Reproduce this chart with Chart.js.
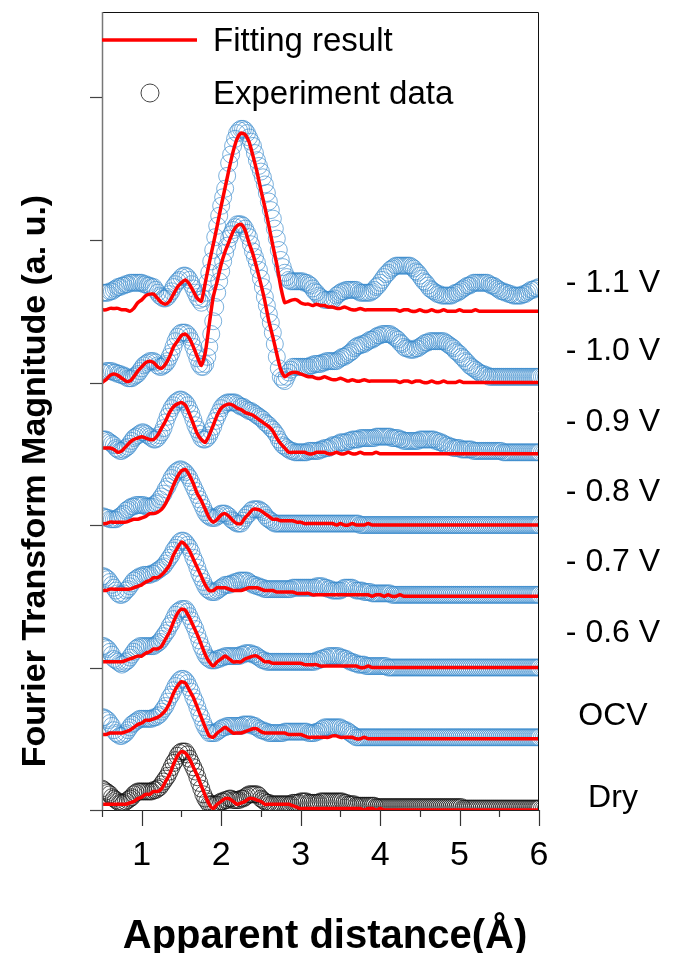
<!DOCTYPE html>
<html>
<head>
<meta charset="utf-8">
<script src="https://cdn.jsdelivr.net/npm/chart.js@4.4.1/dist/chart.umd.min.js"></script>
<style>
  html, body { margin: 0; padding: 0; background: #fff; }
  canvas { display: block; }
</style>
</head>
<body>
<canvas id="ftChart" width="693" height="953"></canvas>
<script>
// apparent distance (Å) for the fitted curves
var rValues = [
  0.5, 0.55, 0.6, 0.65, 0.7, 0.75, 0.8, 0.85, 0.9, 0.95,
  1, 1.05, 1.1, 1.15, 1.2, 1.25, 1.3, 1.35, 1.4, 1.45,
  1.5, 1.55, 1.6, 1.65, 1.7, 1.75, 1.8, 1.85, 1.9, 1.95,
  2, 2.05, 2.1, 2.15, 2.2, 2.25, 2.3, 2.35, 2.4, 2.45,
  2.5, 2.55, 2.6, 2.65, 2.7, 2.75, 2.8, 2.85, 2.9, 2.95,
  3, 3.05, 3.1, 3.15, 3.2, 3.25, 3.3, 3.35, 3.4, 3.45,
  3.5, 3.55, 3.6, 3.65, 3.7, 3.75, 3.8, 3.85, 3.9, 3.95,
  4, 4.05, 4.1, 4.15, 4.2, 4.25, 4.3, 4.35, 4.4, 4.45,
  4.5, 4.55, 4.6, 4.65, 4.7, 4.75, 4.8, 4.85, 4.9, 4.95,
  5, 5.05, 5.1, 5.15, 5.2, 5.25, 5.3, 5.35, 5.4, 5.45,
  5.5, 5.55, 5.6, 5.65, 5.7, 5.75, 5.8, 5.85, 5.9, 5.95,
  6
];
// apparent distance (Å) for the measured points (denser)
var rExp = [
  0.5, 0.525, 0.55, 0.575, 0.6, 0.625, 0.65, 0.675, 0.7, 0.725, 0.75, 0.775, 0.8, 0.825, 0.85, 0.875, 0.9, 0.925, 0.95, 0.975,
  1, 1.025, 1.05, 1.075, 1.1, 1.125, 1.15, 1.175, 1.2, 1.225, 1.25, 1.275, 1.3, 1.325, 1.35, 1.375, 1.4, 1.425, 1.45, 1.475,
  1.5, 1.525, 1.55, 1.575, 1.6, 1.625, 1.65, 1.675, 1.7, 1.725, 1.75, 1.775, 1.8, 1.825, 1.85, 1.875, 1.9, 1.925, 1.95, 1.975,
  2, 2.025, 2.05, 2.075, 2.1, 2.125, 2.15, 2.175, 2.2, 2.225, 2.25, 2.275, 2.3, 2.325, 2.35, 2.375, 2.4, 2.425, 2.45, 2.475,
  2.5, 2.525, 2.55, 2.575, 2.6, 2.625, 2.65, 2.675, 2.7, 2.725, 2.75, 2.775, 2.8, 2.825, 2.85, 2.875, 2.9, 2.925, 2.95, 2.975,
  3, 3.025, 3.05, 3.075, 3.1, 3.125, 3.15, 3.175, 3.2, 3.225, 3.25, 3.275, 3.3, 3.325, 3.35, 3.375, 3.4, 3.425, 3.45, 3.475,
  3.5, 3.525, 3.55, 3.575, 3.6, 3.625, 3.65, 3.675, 3.7, 3.725, 3.75, 3.775, 3.8, 3.825, 3.85, 3.875, 3.9, 3.925, 3.95, 3.975,
  4, 4.025, 4.05, 4.075, 4.1, 4.125, 4.15, 4.175, 4.2, 4.225, 4.25, 4.275, 4.3, 4.325, 4.35, 4.375, 4.4, 4.425, 4.45, 4.475,
  4.5, 4.525, 4.55, 4.575, 4.6, 4.625, 4.65, 4.675, 4.7, 4.725, 4.75, 4.775, 4.8, 4.825, 4.85, 4.875, 4.9, 4.925, 4.95, 4.975,
  5, 5.025, 5.05, 5.075, 5.1, 5.125, 5.15, 5.175, 5.2, 5.225, 5.25, 5.275, 5.3, 5.325, 5.35, 5.375, 5.4, 5.425, 5.45, 5.475,
  5.5, 5.525, 5.55, 5.575, 5.6, 5.625, 5.65, 5.675, 5.7, 5.725, 5.75, 5.775, 5.8, 5.825, 5.85, 5.875, 5.9, 5.925, 5.95, 5.975,
  6
];
var xTickLabels = [1, 2, 3, 4, 5, 6];
var yTickValues = [0, 100, 200, 300, 400, 500];

var seriesLabels = ['- 1.1 V', '- 1.0 V', '- 0.9 V', '- 0.8 V', '- 0.7 V', '- 0.6 V', 'OCV', 'Dry'];
var offsets = [350, 300, 250, 200, 150, 100, 50, 0];

// experiment data (circles), magnitude above each offset
var exp11 = [
  13, 13, 13, 13, 14, 14, 15, 16, 17, 17, 18, 18, 19, 19, 20, 20, 20, 20, 20, 20,
  20, 19, 19, 18, 18, 17, 17, 15, 13, 11, 10, 9, 9, 10, 12, 14, 17, 19, 21, 22,
  24, 25, 25, 24, 22, 19, 16, 13, 10, 8, 6, 9, 13, 20, 27, 35, 43, 52, 60, 67,
  74, 80, 86, 95, 104, 110, 116, 121, 125, 127, 128, 128, 127, 125, 122, 119, 116, 111, 106, 102,
  98, 94, 89, 83, 77, 71, 65, 58, 51, 43, 36, 31, 27, 24, 22, 21, 21, 21, 21, 21,
  21, 21, 20, 20, 19, 18, 16, 14, 13, 11, 10, 9, 8, 8, 8, 8, 8, 9, 11, 12,
  13, 14, 14, 15, 15, 15, 15, 15, 15, 14, 13, 13, 13, 13, 13, 13, 14, 15, 17, 18,
  20, 22, 24, 26, 27, 29, 30, 31, 32, 32, 32, 32, 32, 32, 32, 32, 31, 30, 28, 27,
  25, 23, 21, 20, 18, 16, 15, 14, 13, 12, 12, 11, 11, 11, 11, 11, 11, 12, 13, 13,
  14, 15, 16, 17, 18, 18, 19, 20, 20, 20, 20, 20, 20, 20, 20, 19, 18, 18, 17, 16,
  15, 14, 14, 13, 13, 12, 12, 11, 11, 11, 11, 11, 12, 12, 13, 14, 15, 15, 16, 16,
  17
];
var exp10 = [
  7, 7, 8, 8, 8, 8, 7, 7, 6, 6, 5, 5, 4, 3, 3, 3, 4, 5, 6, 8,
  10, 12, 13, 14, 15, 15, 15, 14, 12, 11, 11, 12, 13, 15, 18, 21, 25, 29, 32, 34,
  35, 35, 35, 34, 32, 29, 25, 21, 17, 13, 11, 11, 13, 18, 25, 34, 43, 53, 63, 71,
  78, 85, 91, 96, 101, 104, 107, 109, 111, 111, 111, 110, 108, 105, 102, 97, 92, 88, 84, 79,
  73, 67, 60, 54, 48, 42, 35, 27, 18, 10, 4, 2, 1, 4, 7, 9, 11, 11, 11, 11,
  11, 11, 11, 11, 11, 12, 12, 13, 13, 13, 13, 14, 14, 15, 15, 15, 15, 15, 15, 16,
  17, 18, 18, 19, 20, 21, 22, 24, 25, 26, 26, 27, 27, 28, 29, 30, 30, 31, 32, 33,
  33, 34, 34, 34, 34, 34, 33, 32, 31, 30, 28, 27, 25, 24, 24, 23, 23, 23, 24, 24,
  25, 26, 27, 28, 28, 29, 29, 29, 29, 29, 29, 29, 29, 28, 27, 26, 25, 24, 22, 21,
  20, 18, 17, 15, 14, 12, 11, 10, 9, 8, 7, 6, 6, 5, 5, 4, 4, 4, 4, 4,
  4, 4, 4, 4, 4, 4, 4, 4, 4, 4, 4, 4, 4, 4, 4, 4, 4, 4, 4, 4,
  4
];
var exp09 = [
  10, 10, 10, 9, 8, 7, 6, 4, 3, 2, 2, 3, 4, 5, 7, 9, 11, 12, 13, 14,
  15, 15, 14, 13, 12, 11, 10, 10, 11, 13, 15, 18, 22, 26, 29, 32, 34, 36, 37, 38,
  38, 37, 36, 34, 31, 28, 24, 20, 17, 14, 11, 10, 10, 11, 13, 16, 19, 23, 26, 29,
  32, 34, 35, 36, 36, 36, 36, 36, 35, 34, 33, 33, 32, 31, 30, 30, 29, 28, 27, 26,
  25, 24, 22, 21, 20, 18, 17, 15, 13, 10, 8, 6, 5, 4, 3, 2, 2, 1, 1, 1,
  1, 1, 1, 1, 2, 2, 2, 2, 2, 2, 3, 3, 4, 4, 4, 5, 6, 6, 6, 7,
  8, 8, 8, 8, 9, 9, 10, 10, 10, 10, 11, 11, 11, 11, 11, 11, 11, 11, 12, 12,
  12, 12, 12, 12, 12, 12, 11, 11, 11, 11, 10, 10, 9, 9, 9, 9, 9, 9, 9, 9,
  10, 10, 10, 10, 10, 10, 10, 10, 9, 9, 8, 8, 7, 6, 6, 5, 5, 4, 4, 4,
  4, 3, 3, 3, 3, 3, 3, 2, 2, 2, 2, 2, 2, 2, 2, 2, 2, 2, 2, 2,
  2, 2, 1, 1, 1, 1, 1, 1, 1, 1, 1, 1, 1, 1, 1, 1, 1, 1, 1, 1,
  1
];
var exp08 = [
  6, 6, 5, 5, 4, 4, 4, 4, 5, 6, 7, 8, 10, 11, 12, 13, 13, 14, 14, 14,
  14, 14, 13, 13, 13, 13, 14, 15, 16, 18, 20, 22, 25, 27, 30, 33, 35, 37, 38, 39,
  39, 38, 37, 35, 33, 30, 27, 24, 21, 18, 15, 12, 9, 7, 6, 5, 5, 5, 6, 7,
  8, 8, 8, 7, 6, 4, 3, 2, 1, 1, 1, 3, 5, 7, 8, 10, 11, 11, 11, 11,
  10, 9, 7, 5, 4, 3, 2, 1, 1, 1, 1, 1, 1, 1, 1, 1, 1, 1, 1, 1,
  1, 1, 1, 1, 1, 1, 1, 1, 1, 1, 1, 1, 1, 1, 1, 1, 1, 1, 1, 1,
  1, 1, 1, 1, 1, 1, 1, 1, 1, 1, 0, 0, 0, 0, 0, 0, 0, 0, 0, 0,
  0, 0, 0, 0, 0, 0, 0, 0, 0, 0, 0, 0, 0, 0, 0, 0, 0, 0, 0, 0,
  0, 0, 0, 0, 0, 0, 0, 0, 0, 0, 0, 0, 0, 0, 0, 0, 0, 0, 0, 0,
  0, 0, 0, 0, 0, 0, 0, 0, 0, 0, 0, 0, 0, 0, 0, 0, 0, 0, 0, 0,
  0, 0, 0, 0, 0, 0, 0, 0, 0, 0, 0, 0, 0, 0, 0, 0, 0, 0, 0, 0,
  0
];
var exp07 = [
  14, 14, 13, 12, 10, 8, 6, 4, 2, 1, 1, 2, 4, 5, 7, 9, 11, 12, 13, 14,
  14, 15, 15, 15, 15, 16, 16, 17, 18, 19, 20, 21, 23, 25, 27, 29, 32, 34, 36, 38,
  39, 39, 38, 36, 34, 31, 27, 24, 20, 16, 13, 10, 7, 5, 4, 3, 3, 3, 4, 5,
  6, 7, 8, 8, 8, 9, 9, 10, 10, 11, 11, 11, 11, 11, 10, 9, 8, 8, 7, 7,
  6, 6, 5, 5, 5, 5, 5, 5, 5, 5, 5, 5, 5, 5, 5, 5, 6, 6, 6, 6,
  6, 6, 6, 6, 6, 6, 6, 6, 7, 7, 7, 7, 6, 6, 5, 5, 4, 4, 4, 4,
  4, 5, 6, 6, 6, 6, 6, 5, 4, 4, 4, 4, 3, 3, 3, 3, 2, 2, 2, 2,
  2, 2, 2, 2, 2, 2, 1, 1, 1, 1, 1, 1, 1, 1, 1, 1, 1, 1, 1, 1,
  1, 1, 1, 1, 1, 1, 1, 1, 1, 1, 1, 1, 1, 1, 1, 1, 1, 1, 1, 1,
  1, 1, 1, 1, 1, 1, 1, 1, 1, 1, 1, 1, 1, 1, 1, 1, 1, 1, 1, 1,
  1, 1, 1, 1, 1, 1, 1, 1, 1, 1, 1, 1, 1, 1, 1, 1, 1, 1, 1, 1,
  1
];
var exp06 = [
  15, 15, 14, 13, 11, 9, 6, 5, 4, 3, 2, 3, 4, 5, 7, 9, 11, 13, 14, 15,
  15, 15, 15, 15, 15, 15, 15, 16, 17, 18, 20, 22, 24, 26, 29, 31, 34, 37, 39, 40,
  41, 41, 41, 39, 36, 33, 30, 27, 23, 19, 15, 12, 9, 7, 6, 5, 5, 5, 6, 6,
  7, 7, 8, 8, 8, 8, 8, 8, 8, 8, 9, 9, 10, 10, 10, 10, 9, 9, 8, 7,
  6, 5, 5, 4, 4, 4, 4, 4, 4, 4, 4, 4, 4, 4, 4, 4, 4, 4, 4, 4,
  4, 4, 4, 4, 4, 4, 4, 4, 5, 5, 6, 6, 7, 7, 8, 8, 8, 8, 8, 8,
  7, 7, 6, 6, 5, 4, 4, 3, 3, 2, 2, 2, 2, 1, 1, 1, 1, 1, 1, 1,
  1, 1, 1, 1, 0, 0, 0, 0, 0, 0, 0, 0, 0, 0, 0, 0, 0, 0, 0, 0,
  0, 0, 0, 0, 0, 0, 0, 0, 0, 0, 0, 0, 0, 0, 0, 0, 0, 0, 0, 0,
  0, 0, 0, 0, 0, 0, 0, 0, 0, 0, 0, 0, 0, 0, 0, 0, 0, 0, 0, 0,
  0, 0, 0, 0, 0, 0, 0, 0, 0, 0, 0, 0, 0, 0, 0, 0, 0, 0, 0, 0,
  0
];
var expOCV = [
  15, 15, 14, 13, 11, 9, 6, 4, 3, 2, 2, 3, 4, 6, 8, 10, 11, 12, 13, 14,
  14, 14, 14, 14, 14, 14, 15, 15, 16, 17, 19, 21, 23, 26, 29, 31, 34, 37, 39, 41,
  42, 42, 41, 39, 36, 33, 29, 26, 22, 18, 15, 11, 8, 6, 4, 4, 4, 4, 5, 6,
  7, 8, 8, 9, 9, 9, 9, 9, 9, 9, 9, 10, 10, 10, 10, 10, 9, 9, 8, 7,
  6, 6, 5, 5, 4, 4, 4, 4, 4, 4, 4, 4, 5, 5, 5, 5, 5, 5, 5, 5,
  5, 5, 5, 5, 4, 4, 4, 4, 5, 5, 6, 7, 8, 8, 8, 8, 8, 8, 8, 8,
  8, 7, 6, 6, 5, 4, 3, 2, 1, 1, 1, 1, 1, 1, 1, 1, 1, 1, 1, 1,
  1, 1, 1, 1, 1, 1, 1, 1, 1, 1, 1, 1, 1, 1, 1, 1, 1, 1, 1, 1,
  1, 1, 1, 1, 1, 1, 1, 1, 1, 1, 1, 1, 1, 1, 1, 1, 1, 1, 1, 1,
  1, 1, 1, 1, 1, 1, 1, 1, 1, 1, 1, 1, 1, 1, 1, 1, 1, 1, 1, 1,
  1, 1, 1, 1, 1, 1, 1, 1, 1, 1, 1, 1, 1, 1, 1, 1, 1, 1, 1, 1,
  1
];
var expDry = [
  15, 14, 13, 12, 11, 9, 8, 7, 6, 5, 5, 5, 6, 7, 8, 9, 11, 12, 13, 13,
  13, 13, 13, 13, 13, 13, 14, 14, 15, 16, 18, 20, 22, 24, 27, 30, 33, 35, 38, 40,
  41, 41, 41, 39, 36, 33, 30, 27, 23, 19, 15, 11, 8, 6, 4, 4, 4, 4, 4, 5,
  6, 6, 7, 7, 8, 8, 7, 7, 7, 7, 8, 8, 9, 10, 11, 11, 11, 11, 11, 10,
  8, 7, 6, 5, 5, 4, 4, 4, 4, 4, 4, 4, 4, 4, 4, 4, 5, 5, 5, 5,
  6, 6, 6, 6, 5, 5, 5, 5, 5, 5, 6, 6, 6, 6, 6, 6, 6, 6, 6, 6,
  6, 6, 5, 5, 4, 4, 4, 4, 3, 3, 3, 3, 3, 3, 3, 3, 3, 3, 2, 2,
  2, 2, 2, 2, 2, 2, 2, 2, 2, 2, 2, 2, 2, 2, 2, 2, 2, 2, 2, 2,
  2, 2, 2, 2, 2, 2, 2, 2, 2, 2, 2, 2, 2, 2, 2, 2, 2, 2, 2, 2,
  2, 2, 1, 1, 1, 1, 1, 1, 1, 1, 1, 1, 1, 1, 1, 1, 1, 1, 1, 1,
  1, 1, 1, 1, 1, 1, 1, 1, 1, 1, 1, 1, 1, 1, 1, 1, 1, 1, 1, 1,
  1
];

// fitting results (red lines)
var fit11 = [
  1, 1, 2, 2, 2, 1, 1, 0, 2, 6,
  8, 11, 12, 12, 9, 6, 5, 7, 12, 17,
  20, 22, 19, 14, 9, 7, 20, 34, 47, 60,
  74, 87, 100, 112, 121, 125, 124, 119, 109, 98,
  85, 73, 60, 46, 33, 17, 6, 7, 8, 8,
  6, 5, 5, 4, 5, 4, 4, 3, 3, 2,
  2, 3, 2, 1, 1, 2, 1, 1, 1, 1,
  1, 1, 1, 1, 1, 0, 1, 1, 0, 0,
  1, 0, 0, 1, 0, 0, 1, 0, 0, 0,
  1, 0, 0, 0, 1, 0, 0, 0, 0, 0,
  0, 0, 0, 0, 0, 0, 0, 0, 0, 0,
  0
];
var fit10 = [
  0, 2, 5, 6, 5, 3, 1, 1, 4, 8,
  11, 14, 15, 14, 11, 10, 13, 18, 25, 29,
  33, 34, 31, 25, 18, 12, 21, 41, 60, 71,
  83, 92, 99, 106, 110, 111, 107, 98, 90, 80,
  69, 57, 43, 32, 20, 9, 4, 6, 7, 7,
  6, 5, 4, 4, 3, 3, 4, 3, 2, 2,
  3, 2, 1, 2, 1, 1, 2, 1, 1, 1,
  1, 1, 1, 1, 1, 0, 1, 1, 0, 1,
  1, 0, 0, 1, 0, 0, 1, 0, 0, 0,
  1, 0, 0, 0, 0, 0, 0, 0, 0, 0,
  0, 0, 0, 0, 0, 0, 0, 0, 0, 0,
  0
];
var fit09 = [
  4, 4, 4, 3, 1, 2, 5, 8, 10, 11,
  12, 11, 10, 10, 13, 18, 23, 29, 33, 35,
  36, 34, 28, 21, 14, 10, 8, 13, 20, 27,
  32, 34, 35, 34, 32, 31, 29, 28, 27, 25,
  23, 21, 19, 16, 11, 7, 4, 1, 1, 1,
  1, 1, 0, 0, 1, 1, 1, 0, 0, 1,
  0, 0, 1, 0, 0, 1, 0, 0, 0, 1,
  0, 0, 0, 0, 0, 0, 0, 0, 0, 0,
  0, 0, 0, 0, 0, 0, 0, 0, 0, 0,
  0, 0, 0, 0, 0, 0, 0, 0, 0, 0,
  0, 0, 0, 0, 0, 0, 0, 0, 0, 0,
  0
];
var fit08 = [
  1, 1, 2, 2, 2, 2, 2, 3, 4, 4,
  5, 6, 8, 8, 9, 11, 15, 21, 28, 34,
  38, 39, 35, 29, 22, 17, 11, 5, 2, 4,
  7, 8, 6, 3, 1, 1, 5, 8, 11, 11,
  10, 8, 6, 4, 4, 3, 3, 3, 3, 2,
  2, 1, 1, 1, 1, 1, 1, 1, 1, 0,
  1, 0, 0, 1, 0, 0, 0, 1, 0, 0,
  0, 0, 0, 0, 0, 0, 0, 0, 0, 0,
  0, 0, 0, 0, 0, 0, 0, 0, 0, 0,
  0, 0, 0, 0, 0, 0, 0, 0, 0, 0,
  0, 0, 0, 0, 0, 0, 0, 0, 0, 0,
  0
];
var fit07 = [
  4, 4, 5, 5, 5, 5, 5, 5, 6, 7,
  8, 10, 11, 13, 13, 15, 18, 22, 29, 34,
  38, 36, 32, 26, 20, 14, 8, 4, 4, 6,
  6, 6, 5, 4, 4, 4, 5, 6, 6, 6,
  5, 4, 4, 4, 3, 3, 3, 3, 3, 2,
  2, 2, 2, 1, 1, 1, 1, 1, 1, 1,
  1, 1, 1, 1, 1, 1, 1, 1, 0, 1,
  1, 0, 1, 0, 0, 1, 0, 0, 0, 0,
  0, 0, 0, 0, 0, 0, 0, 0, 0, 0,
  0, 0, 0, 0, 0, 0, 0, 0, 0, 0,
  0, 0, 0, 0, 0, 0, 0, 0, 0, 0,
  0
];
var fit06 = [
  4, 4, 4, 4, 4, 4, 5, 6, 7, 8,
  8, 10, 11, 13, 13, 15, 20, 25, 32, 38,
  41, 40, 35, 29, 23, 16, 9, 4, 1, 4,
  6, 8, 6, 4, 4, 4, 6, 7, 8, 8,
  6, 4, 4, 3, 3, 3, 3, 3, 3, 3,
  3, 2, 2, 2, 2, 1, 1, 1, 1, 1,
  1, 1, 1, 1, 1, 0, 0, 1, 0, 0,
  0, 0, 0, 0, 0, 0, 0, 0, 0, 0,
  0, 0, 0, 0, 0, 0, 0, 0, 0, 0,
  0, 0, 0, 0, 0, 0, 0, 0, 0, 0,
  0, 0, 0, 0, 0, 0, 0, 0, 0, 0,
  0
];
var fitOCV = [
  3, 3, 4, 4, 4, 4, 5, 6, 8, 10,
  11, 13, 13, 14, 15, 17, 20, 25, 32, 37,
  40, 39, 34, 29, 22, 15, 8, 2, 1, 4,
  6, 8, 6, 4, 4, 4, 5, 6, 7, 7,
  5, 4, 4, 4, 4, 4, 4, 3, 3, 3,
  3, 2, 1, 1, 1, 1, 1, 1, 2, 2,
  1, 1, 1, 1, 0, 0, 1, 0, 0, 0,
  0, 0, 0, 0, 0, 0, 0, 0, 0, 0,
  0, 0, 0, 0, 0, 0, 0, 0, 0, 0,
  0, 0, 0, 0, 0, 0, 0, 0, 0, 0,
  0, 0, 0, 0, 0, 0, 0, 0, 0, 0,
  0
];
var fitDry = [
  4, 4, 4, 4, 4, 4, 4, 5, 6, 8,
  9, 11, 11, 13, 13, 15, 20, 25, 32, 38,
  41, 40, 36, 30, 24, 17, 10, 4, 1, 4,
  6, 8, 8, 6, 4, 5, 6, 8, 8, 7,
  6, 4, 4, 4, 4, 4, 4, 4, 3, 2,
  1, 1, 1, 1, 1, 1, 1, 1, 1, 1,
  1, 1, 1, 1, 1, 1, 0, 1, 1, 0,
  1, 0, 0, 0, 0, 0, 0, 0, 0, 0,
  0, 0, 0, 0, 0, 0, 0, 0, 0, 0,
  0, 0, 0, 0, 0, 0, 0, 0, 0, 0,
  0, 0, 0, 0, 0, 0, 0, 0, 0, 0,
  0
];

var expSeries = [exp11, exp10, exp09, exp08, exp07, exp06, expOCV, expDry];
var fitSeries = [fit11, fit10, fit09, fit08, fit07, fit06, fitOCV, fitDry];
var expColors = ['rgba(58,138,204,0.75)', 'rgba(58,138,204,0.75)', 'rgba(58,138,204,0.75)', 'rgba(58,138,204,0.75)',
                 'rgba(58,138,204,0.75)', 'rgba(58,138,204,0.75)', 'rgba(58,138,204,0.75)', 'rgba(20,20,20,0.8)'];
// where each voltage label sits (y value, same units as the data)
var labelLevels = [370, 322, 272, 223, 174, 124, 66, 8];

var FONT = "Arial, 'Liberation Sans', sans-serif";

function shifted(xs, values, off) {
  return xs.map(function(r, i) { return { x: r, y: values[i] + off }; });
}

var datasets = [];
for (var s = 0; s < seriesLabels.length; s++) {
  datasets.push({
    label: seriesLabels[s] + ' fit',
    data: shifted(rValues, fitSeries[s], offsets[s]),
    showLine: true,
    borderColor: '#ff0000',
    borderWidth: 3.5,
    pointRadius: 0,
    tension: 0.2,
    clip: 0,
    order: 0
  });
  datasets.push({
    label: seriesLabels[s] + ' exp',
    data: shifted(rExp, expSeries[s], offsets[s]),
    showLine: false,
    pointStyle: 'circle',
    pointRadius: 8.5,
    pointBorderWidth: 0.9,
    pointBorderColor: expColors[s],
    pointBackgroundColor: 'rgba(0,0,0,0)',
    clip: 0,
    order: 1
  });
}

var framePlugin = {
  id: 'frame',
  afterDraw: function(chart) {
    var c = chart.ctx;
    var a = chart.chartArea;
    var xs = chart.scales.x;
    var ys = chart.scales.y;
    c.save();

    // frame
    c.lineWidth = 1;
    c.strokeStyle = '#111';
    c.beginPath();
    c.moveTo(a.left, a.top + 0.5);
    c.lineTo(a.right - 0.5, a.top + 0.5);
    c.lineTo(a.right - 0.5, a.bottom);
    c.stroke();
    c.strokeStyle = '#222';
    c.beginPath();
    c.moveTo(a.left, a.bottom + 0.5);
    c.lineTo(a.right, a.bottom + 0.5);
    c.stroke();
    c.strokeStyle = '#777';
    c.lineWidth = 1.5;
    c.beginPath();
    c.moveTo(a.left + 0.5, a.top);
    c.lineTo(a.left + 0.5, a.bottom + 1);
    c.stroke();

    // x ticks, majors on whole numbers, minors between
    c.strokeStyle = '#333';
    c.lineWidth = 1.2;
    for (var v = xs.min; v <= xs.max + 1e-9; v += 0.5) {
      var px = Math.round(xs.getPixelForValue(v)) + 0.5;
      var len = (Math.abs(v - Math.round(v)) < 1e-9) ? 16 : 7;
      c.beginPath();
      c.moveTo(px, a.bottom);
      c.lineTo(px, a.bottom + len);
      c.stroke();
    }
    c.fillStyle = '#000';
    c.font = '34px ' + FONT;
    c.textAlign = 'center';
    c.textBaseline = 'alphabetic';
    xTickLabels.forEach(function(t) {
      c.fillText(String(t), xs.getPixelForValue(t), a.bottom + 55);
    });

    // y ticks (no labels)
    c.strokeStyle = '#444';
    yTickValues.forEach(function(t) {
      var py = Math.round(ys.getPixelForValue(t)) + 0.5;
      c.beginPath();
      c.moveTo(a.left - 12, py);
      c.lineTo(a.left, py);
      c.stroke();
    });

    // axis titles
    c.font = 'bold 40px ' + FONT;
    c.fillText('Apparent distance(Å)', 325, 948);

    c.save();
    c.translate(45, 481);
    c.rotate(-Math.PI / 2);
    c.font = 'bold 34px ' + FONT;
    c.fillText('Fourier Transform Magnitude (a. u.)', 0, 0);
    c.restore();

    // voltage labels
    c.font = '32px ' + FONT;
    c.textBaseline = 'middle';
    seriesLabels.forEach(function(lbl, i) {
      c.fillText(lbl, 613, ys.getPixelForValue(labelLevels[i]));
    });

    // legend
    c.strokeStyle = '#ff0000';
    c.lineWidth = 3.5;
    c.beginPath();
    c.moveTo(a.left, 40);
    c.lineTo(a.left + 95, 40);
    c.stroke();
    c.strokeStyle = '#444';
    c.lineWidth = 1;
    c.beginPath();
    c.arc(a.left + 48, 93, 9, 0, Math.PI * 2);
    c.stroke();
    c.font = '33px ' + FONT;
    c.textAlign = 'left';
    c.fillStyle = '#000';
    c.fillText('Fitting result', 213, 42);
    c.fillText('Experiment data', 213, 95);

    c.restore();
  }
};

var ctx = document.getElementById('ftChart').getContext('2d');
var ftChart = new Chart(ctx, {
  type: 'scatter',
  data: { datasets: datasets },
  options: {
    responsive: false,
    animation: false,
    events: [],
    layout: { padding: { left: 102, right: 154, top: 12, bottom: 143 } },
    plugins: {
      legend: { display: false },
      tooltip: { enabled: false }
    },
    scales: {
      x: { type: 'linear', min: 0.5, max: 6, display: false },
      y: { type: 'linear', min: 0, max: 560, display: false }
    }
  },
  plugins: [framePlugin]
});
</script>
</body>
</html>
